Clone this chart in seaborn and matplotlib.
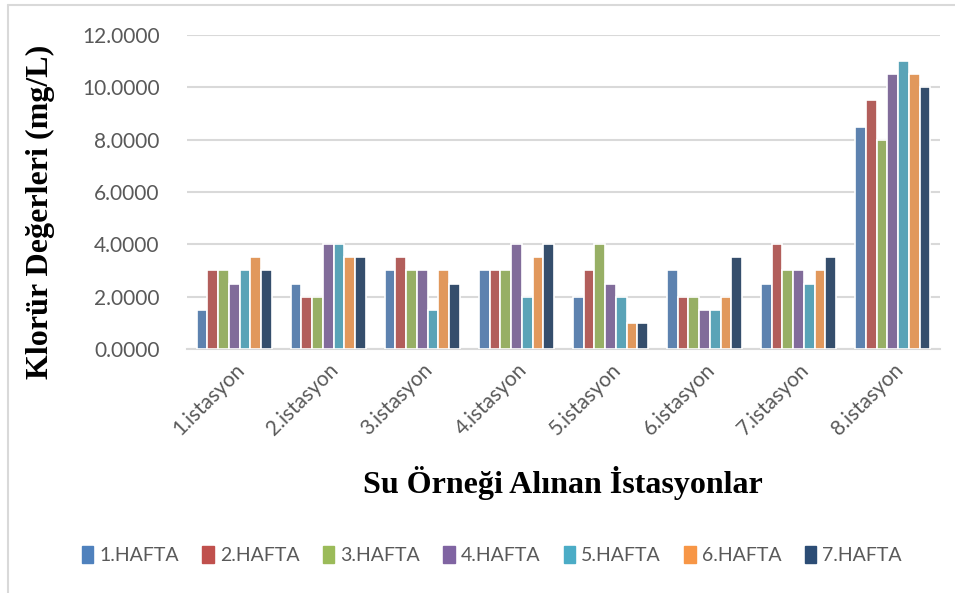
import pandas as pd
import matplotlib
matplotlib.use("Agg")
import matplotlib.pyplot as plt
import seaborn as sns
from matplotlib.lines import Line2D

# data
istasyonlar = ["1.istasyon", "2.istasyon", "3.istasyon", "4.istasyon",
               "5.istasyon", "6.istasyon", "7.istasyon", "8.istasyon"]
haftalar = ["1.HAFTA", "2.HAFTA", "3.HAFTA", "4.HAFTA", "5.HAFTA", "6.HAFTA", "7.HAFTA"]

hafta1 = [1.5, 2.5, 3.0, 3.0, 2.0, 3.0, 2.5, 8.5]
hafta2 = [3.0, 2.0, 3.5, 3.0, 3.0, 2.0, 4.0, 9.5]
hafta3 = [3.0, 2.0, 3.0, 3.0, 4.0, 2.0, 3.0, 8.0]
hafta4 = [2.5, 4.0, 3.0, 4.0, 2.5, 1.5, 3.0, 10.5]
hafta5 = [3.0, 4.0, 1.5, 2.0, 2.0, 1.5, 2.5, 11.0]
hafta6 = [3.5, 3.5, 3.0, 3.5, 1.0, 2.0, 3.0, 10.5]
hafta7 = [3.0, 3.5, 2.5, 4.0, 1.0, 3.5, 3.5, 10.0]

renkler = ["#4F81BD", "#C0504D", "#9BBB59", "#8064A2", "#4BACC6", "#F79646", "#2C4D75"]

rows = []
for h, vals in zip(haftalar, [hafta1, hafta2, hafta3, hafta4, hafta5, hafta6, hafta7]):
    for ist, v in zip(istasyonlar, vals):
        rows.append({"istasyon": ist, "hafta": h, "deger": v})
df = pd.DataFrame(rows)

sns.set_style("white")
plt.rcParams['font.family'] = ['Lato', 'DejaVu Sans']

fig = plt.figure(figsize=(9.55, 5.93), dpi=100)
ax = fig.add_axes([0.196, 0.4115, 0.788, 0.5295])

sns.barplot(data=df, x="istasyon", y="deger", hue="hafta", order=istasyonlar,
            hue_order=haftalar, palette=renkler, width=0.8, ax=ax,
            edgecolor="white", linewidth=1.2, errorbar=None, legend=False, zorder=3)

ax.set_ylim(0, 12)
ax.set_yticks([0, 2, 4, 6, 8, 10, 12])
ax.set_yticklabels(["%.4f" % t for t in [0, 2, 4, 6, 8, 10, 12]])
ax.grid(axis="y", color="#D9D9D9", linewidth=1.5, zorder=0)
ax.set_axisbelow(True)
for s in ["top", "right", "left"]:
    ax.spines[s].set_visible(False)
ax.spines["bottom"].set_color("#D9D9D9")
ax.spines["bottom"].set_linewidth(1.5)
ax.tick_params(axis="both", length=0, colors="#595959", labelsize=15)
ax.tick_params(axis="y", pad=20)
plt.setp(ax.get_xticklabels(), rotation=45, ha="right", rotation_mode="anchor")
ax.tick_params(axis="x", pad=8)

ax.set_xlabel("")
ax.set_ylabel("")
fig.text(0.589, 0.186, "Su Örneği Alınan İstasyonlar", ha="center", va="center",
         family="Liberation Serif", fontweight="bold", fontsize=23, color="black")
fig.text(0.042, 0.642, "Klorür Değerleri (mg/L)", ha="center", va="center", rotation=90,
         family="Liberation Serif", fontweight="bold", fontsize=23, color="black")

handles = [plt.Rectangle((0, 0), 1, 1, color=c) for c in renkler]
fig.legend(handles, haftalar, loc="center", bbox_to_anchor=(0.515, 0.064), ncol=7,
           frameon=False, fontsize=14, handlelength=0.6, handleheight=1.0,
           handletextpad=0.3, columnspacing=1.2, labelcolor="#595959")

# outer chart border (left and top visible in the crop)
fig.add_artist(Line2D([0.0085, 0.0085], [0, 0.992], color="#D9D9D9", lw=1.5, transform=fig.transFigure))
fig.add_artist(Line2D([0.0085, 1], [0.992, 0.992], color="#D9D9D9", lw=1.5, transform=fig.transFigure))

fig.savefig("out.png", dpi=100)
